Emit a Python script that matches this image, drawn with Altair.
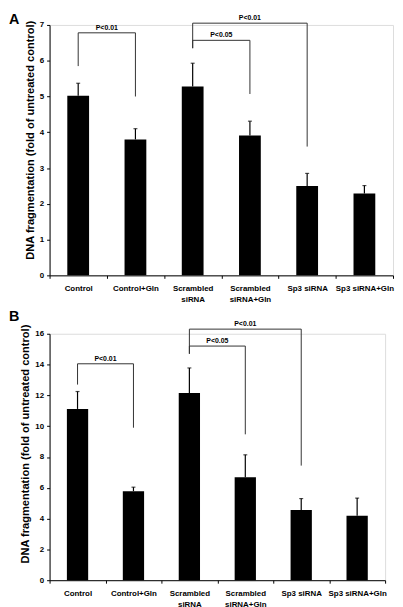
import altair as alt
import pandas as pd

FONT = "Liberation Sans"

categories = ["Control", "Control+Gln", "Scrambled|siRNA", "Scrambled|siRNA+Gln", "Sp3 siRNA", "Sp3 siRNA+Gln"]

# Panel A values (mean and top of error bar)
a_means = [5.02, 3.80, 5.28, 3.91, 2.50, 2.29]
a_err_top = [5.37, 4.10, 5.93, 4.31, 2.85, 2.51]
# Panel B values
b_means = [11.12, 5.78, 12.15, 6.68, 4.55, 4.18]
b_err_top = [12.25, 6.04, 13.78, 8.14, 5.30, 5.33]

# Significance brackets: left category index, right category index, top, stems' lower ends, label
a_br_left = [0, 2, 2]
a_br_right = [1, 3, 4]
a_br_top = [6.78, 6.57, 7.05]
a_br_left_low = [5.85, 6.35, 6.35]
a_br_right_low = [5.00, 5.07, 3.60]
a_br_label = ["P<0.01", "P<0.05", "P<0.01"]

b_br_left = [0, 2, 2]
b_br_right = [1, 3, 4]
b_br_top = [14.05, 15.2, 16.3]
b_br_left_low = [12.7, 14.7, 14.7]
b_br_right_low = [9.9, 9.47, 7.44]
b_br_label = ["P<0.01", "P<0.05", "P<0.01"]

Y_TITLE = "DNA fragmentation (fold of untreated control)"


def panel(means, tops, br_l, br_r, br_top, br_ll, br_rl, br_lab,
          width, height, ymax, ystep, letter, title_y, bar_size, letter_y):
    bars = pd.DataFrame({"cat": categories, "mean": means, "top": tops})
    stems = []
    horiz = []
    labels = []
    for l, r, t, ll, rl, lab in zip(br_l, br_r, br_top, br_ll, br_rl, br_lab):
        stems.append({"cat": categories[l], "low": ll, "high": t})
        stems.append({"cat": categories[r], "low": rl, "high": t})
        horiz.append({"cat": categories[l], "cat2": categories[r], "y": t})
        mid = (l + r) / 2
        if mid == int(mid):
            labels.append({"cat": categories[int(mid)], "y": t, "label": lab, "band": "center"})
        else:
            labels.append({"cat": categories[int(mid)], "y": t, "label": lab, "band": "edge"})
    stems = pd.DataFrame(stems)
    horiz = pd.DataFrame(horiz)
    labels = pd.DataFrame(labels)

    xscale = alt.Scale(paddingInner=0, paddingOuter=0)
    xaxis = alt.Axis(title=None, labelAngle=0,
                     labelExpr="isValid(datum.value) ? split(datum.value, '|') : ''",
                     tickBand="extent", tickSize=3, labelPadding=6.5, labelFont=FONT,
                     labelFontSize=8, labelFontWeight="bold", labelColor="black",
                     labelLineHeight=10.6, domainColor="black", tickColor="black",
                     domainWidth=1, tickWidth=1)
    yscale = alt.Scale(domain=[0, ymax], nice=False, zero=True)
    yaxis = alt.Axis(values=list(range(0, ymax + 1, ystep)), title=Y_TITLE,
                     titleFont=FONT, titleFontSize=11.2, titleFontWeight="bold",
                     titleColor="black", titleY=title_y, titlePadding=4,
                     labelFont=FONT, labelFontSize=8, labelFontWeight="bold",
                     labelColor="black", tickSize=3, labelPadding=3, grid=False,
                     domainColor="black", tickColor="black", domainWidth=1, tickWidth=1)

    def X(field, **kw):
        return alt.X(field, type="nominal", sort=categories, scale=xscale, axis=xaxis, **kw)

    def Y(field):
        return alt.Y(field, type="quantitative", scale=yscale, axis=yaxis)

    bar = alt.Chart(bars).mark_bar(size=bar_size, color="black").encode(
        x=X("cat"), y=Y("mean"))
    err = alt.Chart(bars).mark_rule(color="black", strokeWidth=1.2).encode(
        x=X("cat"), y=Y("mean"), y2="top:Q")
    cap = alt.Chart(bars).mark_tick(color="black", size=4, thickness=1.2,
                                    orient="horizontal").encode(x=X("cat"), y=Y("top"))
    stem = alt.Chart(stems).mark_rule(color="#333333", strokeWidth=1).encode(
        x=X("cat"), y=Y("low"), y2="high:Q")
    hline = alt.Chart(horiz).mark_rule(color="#333333", strokeWidth=1).encode(
        x=X("cat"), x2="cat2", y=Y("y"))
    txt_kw = dict(font=FONT, fontSize=7, fontWeight="bold", color="black",
                  baseline="bottom", dy=-2)
    lab_c = alt.Chart(labels).transform_filter(alt.datum.band == "center").mark_text(**txt_kw).encode(
        x=X("cat", bandPosition=0.5), y=Y("y"), text="label:N")
    lab_e = alt.Chart(labels).transform_filter(alt.datum.band == "edge").mark_text(**txt_kw).encode(
        x=X("cat", bandPosition=1.0), y=Y("y"), text="label:N")
    panel_letter = alt.Chart(pd.DataFrame({"letter": [letter]})).mark_text(
        font=FONT, fontSize=14.5, fontWeight="bold", color="black",
        align="left", baseline="top").encode(
        x=alt.value(-41), y=alt.value(letter_y), text="letter:N")

    return alt.layer(bar, err, cap, stem, hline, lab_c, lab_e, panel_letter).properties(
        width=width, height=height)


chart_a = panel(a_means, a_err_top, a_br_left, a_br_right, a_br_top, a_br_left_low,
                a_br_right_low, a_br_label, 347, 253, 7, 1, "A", 116, 22, -12)
chart_b = panel(b_means, b_err_top, b_br_left, b_br_right, b_br_top, b_br_left_low,
                b_br_right_low, b_br_label, 339, 249, 16, 2, "B", 111, 21.5, -24)

chart = alt.vconcat(chart_a, chart_b, spacing=4).properties(padding=0).configure_view(
    stroke=None).configure(font=FONT, background="white")

chart.save("out.html", embed_options={"renderer": "svg", "actions": False})
